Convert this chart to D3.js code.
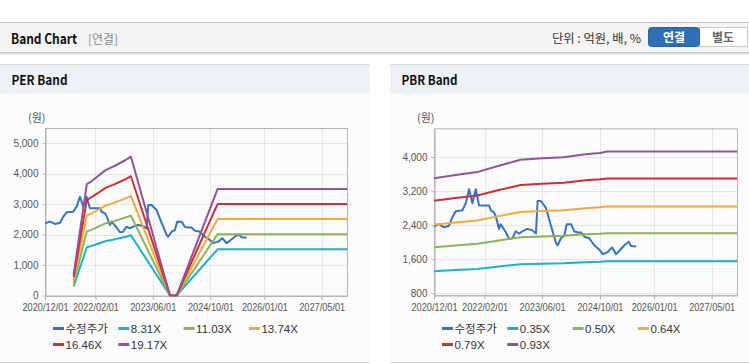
<!DOCTYPE html>
<html><head><meta charset="utf-8">
<script src="https://cdn.jsdelivr.net/npm/d3@7"></script>
<style>
html,body{margin:0;padding:0;background:#fff;}
svg{display:block;font-family:"Liberation Sans","Noto Sans CJK KR",Arial,sans-serif;}
</style></head>
<body><svg id="c" width="749" height="364"></svg>
<script>
// ---------- DATA ----------
const xTickLabels = ["2020/12/01","2022/02/01","2023/06/01","2024/10/01","2026/01/01","2027/05/01"];
const xDomain = ["2020-12-01","2027-12-01"];

const priceDates = ["2020-12-01","2021-01-12","2021-02-24","2021-04-07","2021-05-05","2021-06-02","2021-07-28","2021-08-26","2021-09-23","2021-10-21","2021-11-18","2021-12-16","2022-03-11","2022-03-25","2022-04-22","2022-05-06","2022-06-03","2022-06-17","2022-07-29","2022-08-27","2022-09-24","2022-10-22","2022-11-19","2022-12-18","2023-01-29","2023-03-12","2023-04-10","2023-04-24","2023-05-22","2023-07-03","2023-07-31","2023-08-28","2023-09-26","2023-10-10","2023-11-07","2023-12-05","2023-12-25","2024-01-31","2024-02-27","2024-03-26","2024-04-24","2024-05-22","2024-07-03","2024-08-14","2024-09-26","2024-10-24","2024-12-05","2025-01-11","2025-02-14","2025-03-14","2025-04-25","2025-05-31","2025-06-21","2025-08-02"];
const priceValues = [2370,2425,2350,2390,2590,2730,2750,2920,3245,2920,3245,2865,2865,2750,2700,2610,2315,2425,2240,2075,2095,2260,2205,2260,2315,2280,2205,2970,2970,2810,2535,2260,1990,1930,2095,2150,2425,2425,2260,2230,2230,2130,2095,1930,1825,1720,1770,1880,1720,1800,1930,2010,1910,1900];

// PER band
const perDates = ["2021-08-01","2021-11-20","2022-01-01","2022-03-01","2022-05-01","2022-07-01","2022-09-01","2022-10-15","2022-11-28","2023-10-25","2023-12-20","2024-12-01","2027-12-01"];
const perNames = ["8.31X","11.03X","13.74X","16.46X","19.17X"];
const per831  = [303,1586,1630,1708,1788,1834,1890,1929,1977,0,0,1517,1517];
const per1103 = [403,2106,2163,2267,2374,2434,2508,2560,2624,0,0,2014,2014];
const per1374 = [502,2623,2694,2824,2957,3032,3124,3189,3269,0,0,2509,2509];
const per1646 = [601,3142,3228,3383,3542,3633,3743,3820,3916,0,0,3006,3006];
const per1917 = [700,3660,3759,3939,4125,4231,4359,4449,4561,0,0,3500,3500];
const perYTicks = [0,1000,2000,3000,4000,5000];

// PBR band
const pbrDates = ["2020-12-01","2021-06-01","2021-12-01","2022-06-01","2022-12-01","2023-06-01","2023-12-01","2024-06-01","2024-10-01","2024-12-01","2027-12-01"];
const pbrNames = ["0.35X","0.50X","0.64X","0.79X","0.93X"];
const pbr035 = [1320,1348,1374,1430,1483,1496,1505,1532,1543,1555,1555];
const pbr050 = [1885,1925,1963,2043,2119,2137,2151,2188,2200,2210,2210];
const pbr064 = [2413,2464,2512,2615,2712,2735,2753,2801,2822,2844,2844];
const pbr079 = [2978,3042,3101,3228,3347,3376,3398,3457,3483,3500,3500];
const pbr093 = [3506,3581,3650,3800,3940,3975,4000,4070,4100,4132,4132];
const pbrYTicks = [800,1600,2400,3200,4000];

const colors = {price:"#2f74c5", c1:"#19b2c6", c2:"#8cb358", c3:"#f5a83a", c4:"#d22f2c", c5:"#93519d"};
// ---------- DRAW ----------
const svg = d3.select("#c");
const parse = d3.timeParse("%Y-%m-%d");
const parseTick = d3.timeParse("%Y/%m/%d");

// header
svg.append("rect").attr("x",0).attr("y",22).attr("width",749).attr("height",31).attr("fill","#f4f4f4");
svg.append("line").attr("x1",0).attr("x2",749).attr("y1",22.5).attr("y2",22.5).attr("stroke","#c6c6c6");
svg.append("line").attr("x1",0).attr("x2",749).attr("y1",52.5).attr("y2",52.5).attr("stroke","#c4c4c4");
svg.append("line").attr("x1",0).attr("x2",749).attr("y1",53.5).attr("y2",53.5).attr("stroke","#dedede");
svg.append("line").attr("x1",0).attr("x2",749).attr("y1",54.5).attr("y2",54.5).attr("stroke","#efefef");
svg.append("text").attr("x",11).attr("y",44).attr("font-size",14).attr("font-weight","bold").attr("fill","#111")
  .attr("font-family","'Noto Sans CJK KR',sans-serif").attr("textLength",66).attr("lengthAdjust","spacingAndGlyphs").text("Band Chart");
svg.append("text").attr("x",88).attr("y",44).attr("font-size",12).attr("fill","#8a8a8a")
  .attr("font-family","'Noto Sans CJK KR',sans-serif").attr("textLength",30).attr("lengthAdjust","spacingAndGlyphs").text("[연결]");
svg.append("text").attr("x",641).attr("y",43).attr("font-size",12).attr("fill","#333").attr("text-anchor","end")
  .attr("font-family","'Noto Sans CJK KR',sans-serif").attr("textLength",89).attr("lengthAdjust","spacingAndGlyphs").text("단위 : 억원, 배, %");
svg.append("rect").attr("x",699.5).attr("y",27.5).attr("width",48).attr("height",19).attr("fill","#fff").attr("stroke","#c9c9c9");
svg.append("rect").attr("x",648.5).attr("y",27.5).attr("width",51).attr("height",19).attr("rx",3).attr("fill","#2f6fb4").attr("stroke","#2a62a0");
svg.append("rect").attr("x",690).attr("y",28).attr("width",9.5).attr("height",18).attr("fill","#2f6fb4");
svg.append("text").attr("x",674).attr("y",41.5).attr("font-size",12).attr("font-weight","bold").attr("fill","#fff").attr("text-anchor","middle")
  .attr("font-family","'Noto Sans CJK KR',sans-serif").text("연결");
svg.append("text").attr("x",723).attr("y",41.5).attr("font-size",12).attr("font-weight","bold").attr("fill","#666").attr("text-anchor","middle")
  .attr("font-family","'Noto Sans CJK KR',sans-serif").text("별도");

function panel(cfg){
  const g = svg.append("g");
  // panel background
  g.append("rect").attr("x",cfg.px).attr("y",64).attr("width",cfg.pw).attr("height",299).attr("fill","#fbfbfb");
  g.append("rect").attr("x",cfg.px).attr("y",64).attr("width",cfg.pw).attr("height",29).attr("fill","#eef2f7");
  g.append("line").attr("x1",cfg.px).attr("x2",cfg.px+cfg.pw).attr("y1",64.5).attr("y2",64.5).attr("stroke","#d9d9d9");
  g.append("line").attr("x1",cfg.px).attr("x2",cfg.px+cfg.pw).attr("y1",362.5).attr("y2",362.5).attr("stroke","#d9d9d9");
  g.append("text").attr("x",cfg.px+11.5).attr("y",85).attr("font-size",13).attr("font-weight","bold").attr("fill","#111")
    .attr("font-family","'Noto Sans CJK KR',sans-serif").attr("textLength",56).attr("lengthAdjust","spacingAndGlyphs").text(cfg.title);
  g.append("text").attr("x",cfg.x0-17).attr("y",122).attr("font-size",11).attr("fill","#555")
    .attr("font-family","'Noto Sans CJK KR',sans-serif").text("(원)");

  const x = d3.scaleTime().domain(xDomain.map(parse)).range([cfg.x0, cfg.x1]);
  const y = d3.scaleLinear().domain(cfg.yDomain).range([cfg.yb, cfg.yt]);
  const tickDates = xTickLabels.map(parseTick);

  // grid
  g.append("g").selectAll("line").data(tickDates).join("line")
    .attr("x1",d=>Math.round(x(d))+0.5).attr("x2",d=>Math.round(x(d))+0.5).attr("y1",cfg.yt).attr("y2",cfg.yb).attr("stroke","#e6e6e6");
  g.append("g").selectAll("line").data(cfg.yTicks).join("line")
    .attr("x1",cfg.x0).attr("x2",cfg.x1).attr("y1",d=>Math.round(y(d))+0.5).attr("y2",d=>Math.round(y(d))+0.5).attr("stroke","#e6e6e6");
  // frame
  g.append("rect").attr("x",cfg.x0+0.5).attr("y",cfg.yt+0.5).attr("width",cfg.x1-cfg.x0).attr("height",cfg.yb-cfg.yt)
    .attr("fill","none").attr("stroke","#b4b4b4");

  // axes
  const fmt = d3.format(",");
  const ax = g.append("g").attr("transform",`translate(0,${cfg.yb+0.5})`)
    .call(d3.axisBottom(x).tickValues(tickDates).tickSize(4).tickSizeOuter(0).tickPadding(4).tickFormat(d3.timeFormat("%Y/%m/%d")));
  ax.select(".domain").attr("stroke","#b4b4b4");
  ax.selectAll(".tick line").attr("stroke","#b4b4b4");
  ax.selectAll("text").attr("fill","#555").attr("font-size",10).attr("font-family","'Liberation Sans',Arial,sans-serif")
    .attr("textLength",46).attr("lengthAdjust","spacingAndGlyphs");
  const ay = g.append("g").attr("transform",`translate(${cfg.x0+0.5},0)`)
    .call(d3.axisLeft(y).tickValues(cfg.yTicks).tickSize(3).tickSizeOuter(0).tickPadding(4).tickFormat(fmt));
  ay.select(".domain").attr("stroke","#b4b4b4");
  ay.selectAll(".tick line").attr("stroke","#b4b4b4");
  ay.selectAll("text").attr("fill","#555").attr("font-size",10).attr("font-family","'Liberation Sans',Arial,sans-serif");

  const line = d3.line().x(d=>x(d[0])).y(d=>y(d[1]));
  const clip = "clip"+cfg.id;
  svg.append("defs").append("clipPath").attr("id",clip).append("rect")
    .attr("x",cfg.x0).attr("y",cfg.yt).attr("width",cfg.x1-cfg.x0+1).attr("height",cfg.yb-cfg.yt+1);
  const lg = g.append("g").attr("clip-path",`url(#${clip})`);
  lg.append("path").datum(priceDates.map((d,i)=>[parse(d),priceValues[i]]))
    .attr("d",line).attr("fill","none").attr("stroke",colors.price).attr("stroke-width",2).attr("stroke-linejoin","round");
  const bandColors = [colors.c1,colors.c2,colors.c3,colors.c4,colors.c5];
  cfg.bands.forEach((vals,k)=>{
    lg.append("path").datum(cfg.bandDates.map((d,i)=>[parse(d),vals[i]]))
      .attr("d",line).attr("fill","none").attr("stroke",bandColors[k]).attr("stroke-width",2).attr("stroke-linejoin","round");
  });

  // legend
  const items = [{name:"수정주가",color:colors.price}].concat(cfg.names.map((n,k)=>({name:n,color:bandColors[k]})));
  items.forEach((it,i)=>{
    const col = i%4, row = Math.floor(i/4);
    const lx = cfg.x0 + 8 + col*65.3, ly = 328.5 + row*16;
    g.append("line").attr("x1",lx).attr("x2",lx+11).attr("y1",ly).attr("y2",ly).attr("stroke",it.color).attr("stroke-width",3);
    g.append("text").attr("x",lx+12.5).attr("y",ly+4).attr("font-size",11.5).attr("fill","#333")
      .attr("font-family","'Liberation Sans','Noto Sans CJK KR',sans-serif").text(it.name);
  });
}

panel({id:"per", title:"PER Band", px:0, pw:370, x0:45, x1:347, yt:128, yb:295.5, yDomain:[0,5500],
  yTicks:perYTicks, bandDates:perDates, bands:[per831,per1103,per1374,per1646,per1917], names:perNames});
panel({id:"pbr", title:"PBR Band", px:390, pw:359, x0:434, x1:737, yt:128.3, yb:295, yDomain:[760,4680],
  yTicks:pbrYTicks, bandDates:pbrDates, bands:[pbr035,pbr050,pbr064,pbr079,pbr093], names:pbrNames});
</script></body></html>
